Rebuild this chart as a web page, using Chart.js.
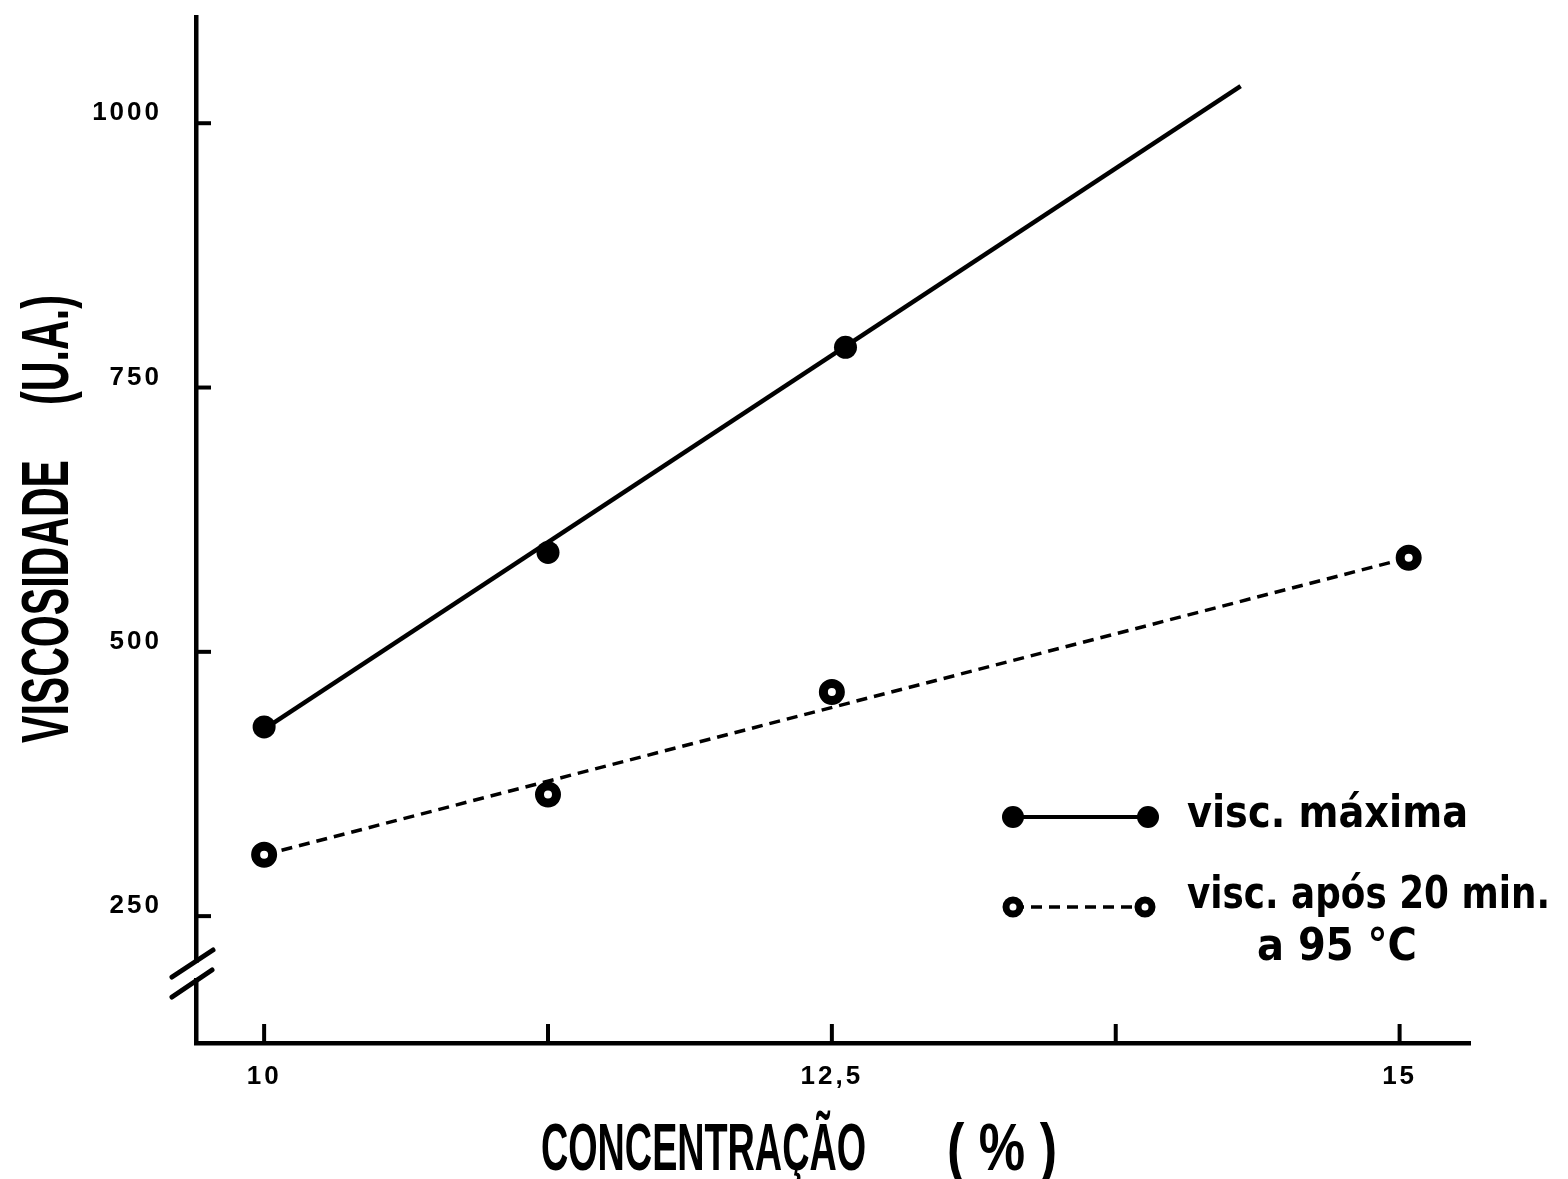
<!DOCTYPE html>
<html>
<head>
<meta charset="utf-8">
<script src="https://cdn.jsdelivr.net/npm/chart.js@4.4.1/dist/chart.umd.min.js"></script>
<style>
  html, body { margin: 0; padding: 0; background: #fff; overflow: hidden; }
  #wrap { position: relative; width: 1568px; height: 1179px; }
  canvas { display: block; }
</style>
</head>
<body>
<div id="wrap"><canvas id="c" width="1568" height="1179"></canvas></div>
<script>
// Measured points: concentration (%) vs viscosity (U.A.)
const concMax = [10, 11.25, 12.56];
const viscMax = [429, 594, 788];
const concAfter = [10, 11.25, 12.5, 15.04];
const viscAfter = [308, 365, 462, 589];

// Straight lines fitted through each series (end points)
const fitMaxConc = [10, 14.3];
const fitMaxVisc = [427, 1035];
const fitAfterConc = [10, 15.04];
const fitAfterVisc = [308, 589];

// Axis ticks and labels
const xTicks = [10, 11.25, 12.5, 13.75, 15];
const xTickLabels = ['10', '', '12,5', '', '15'];
const yTicks = [250, 500, 750, 1000];
const yTickLabels = ['250', '500', '750', '1000'];

// Texts
const legendLabels = ['visc. máxima', 'visc. após 20 min.', 'a 95 °C'];
const xTitleParts = ['CONCENTRAÇÃO', '( % )'];
const yTitleParts = ['VISCOSIDADE', '(U.A.)'];

const INK = '#000';
const toPoints = (xs, ys) => xs.map((x, i) => ({ x, y: ys[i] }));

// Draw a string squeezed/stretched to a given advance width
function fitText(ctx, text, x, y, width, font, rotated) {
  ctx.save();
  ctx.font = font;
  const w = ctx.measureText(text).width;
  ctx.translate(x, y);
  if (rotated) ctx.rotate(-Math.PI / 2);
  ctx.scale(width / w, 1);
  ctx.textAlign = 'left';
  ctx.textBaseline = 'alphabetic';
  ctx.fillStyle = INK;
  ctx.fillText(text, 0, 0);
  ctx.restore();
}

const spacingPlugin = {
  id: 'tickSpacing',
  beforeDraw(chart) { chart.ctx.letterSpacing = '3px'; },
  beforeDatasetsDraw(chart) { chart.ctx.letterSpacing = '0px'; }
};

const decorPlugin = {
  id: 'decor',
  afterDraw(chart) {
    const ctx = chart.ctx;
    const { left, bottom } = chart.chartArea;
    const xs = chart.scales.x, ys = chart.scales.y;
    ctx.save();
    ctx.strokeStyle = INK;
    ctx.fillStyle = INK;
    ctx.lineCap = 'butt';

    // inward tick marks
    ctx.lineWidth = 4;
    xTicks.forEach(v => {
      const px = xs.getPixelForValue(v);
      ctx.beginPath(); ctx.moveTo(px, bottom); ctx.lineTo(px, bottom - 19); ctx.stroke();
    });
    yTicks.forEach(v => {
      const py = ys.getPixelForValue(v);
      ctx.beginPath(); ctx.moveTo(left, py); ctx.lineTo(left + 15, py); ctx.stroke();
    });

    // axis break marks near the foot of the y axis
    ctx.fillStyle = '#fff';
    ctx.fillRect(left - 4, bottom - 80, 8, 15);
    ctx.strokeStyle = INK;
    ctx.lineWidth = 5;
    ctx.lineCap = 'round';
    ctx.beginPath();
    ctx.moveTo(left - 24, bottom - 66); ctx.lineTo(left + 17, bottom - 93);
    ctx.moveTo(left - 24, bottom - 46); ctx.lineTo(left + 16, bottom - 73);
    ctx.stroke();

    // legend
    ctx.lineCap = 'butt';
    ctx.lineWidth = 4;
    ctx.beginPath(); ctx.moveTo(1013, 817); ctx.lineTo(1148, 817); ctx.stroke();
    ctx.fillStyle = INK;
    [1013, 1148].forEach(cx => { ctx.beginPath(); ctx.arc(cx, 817, 11, 0, Math.PI * 2); ctx.fill(); });

    ctx.lineWidth = 3.5;
    ctx.setLineDash([11, 7]);
    ctx.beginPath(); ctx.moveTo(1013, 907); ctx.lineTo(1145, 907); ctx.stroke();
    ctx.setLineDash([]);
    ctx.lineWidth = 7;
    [1013, 1145].forEach(cx => {
      ctx.beginPath(); ctx.arc(cx, 907, 7, 0, Math.PI * 2);
      ctx.fillStyle = '#fff'; ctx.fill(); ctx.stroke();
    });

    const lf = 'bold 44px "DejaVu Sans", sans-serif';
    fitText(ctx, legendLabels[0], 1187, 827, 281, lf);
    fitText(ctx, legendLabels[1], 1187, 908, 363, lf);
    fitText(ctx, legendLabels[2], 1257, 960, 160, lf);

    // axis titles
    const tf = 'bold 66px "Liberation Sans Narrow", "Liberation Sans", sans-serif';
    fitText(ctx, xTitleParts[0], 541, 1170, 325, tf);
    fitText(ctx, xTitleParts[1], 947, 1170, 110, tf);
    fitText(ctx, yTitleParts[0], 68, 743, 283, tf, true);
    fitText(ctx, yTitleParts[1], 68, 405, 110, tf, true);

    ctx.restore();
  }
};

const tickFont = { family: '"Liberation Sans", Arial, sans-serif', size: 26, weight: 'bold' };

new Chart(document.getElementById('c'), {
  type: 'scatter',
  data: {
    datasets: [
      {
        label: 'visc. máxima (reta)',
        data: toPoints(fitMaxConc, fitMaxVisc),
        showLine: true,
        borderColor: INK,
        borderWidth: 4.5,
        pointRadius: 0,
        order: 3
      },
      {
        label: 'visc. após 20 min. (reta)',
        data: toPoints(fitAfterConc, fitAfterVisc),
        showLine: true,
        borderColor: INK,
        borderWidth: 3.5,
        borderDash: [11, 7],
        pointRadius: 0,
        order: 2
      },
      {
        label: legendLabels[0],
        data: toPoints(concMax, viscMax),
        showLine: false,
        pointRadius: 11.5,
        pointBorderWidth: 0,
        pointBackgroundColor: INK,
        order: 1
      },
      {
        label: legendLabels[1] + ' ' + legendLabels[2],
        data: toPoints(concAfter, viscAfter),
        showLine: false,
        pointRadius: 8.5,
        pointBorderWidth: 9,
        pointBorderColor: INK,
        pointBackgroundColor: '#fff',
        order: 0
      }
    ]
  },
  options: {
    responsive: false,
    animation: false,
    devicePixelRatio: 1,
    layout: { padding: { left: 0, top: 12, right: 98, bottom: 0 } },
    plugins: { legend: { display: false }, tooltip: { enabled: false } },
    scales: {
      x: {
        type: 'linear',
        min: 9.70,
        max: 15.31,
        afterBuildTicks: s => { s.ticks = xTicks.map(v => ({ value: v })); },
        afterFit: s => { s.height = 136; s.paddingLeft = 0; s.paddingRight = 0; },
        grid: { display: false, drawTicks: false },
        border: { display: true, color: INK, width: 4.5 },
        ticks: {
          autoSkip: false,
          maxRotation: 0,
          padding: 18,
          color: INK,
          font: tickFont,
          callback: v => xTickLabels[xTicks.indexOf(v)]
        }
      },
      y: {
        type: 'linear',
        min: 130,
        max: 1100,
        afterBuildTicks: s => { s.ticks = yTicks.map(v => ({ value: v })); },
        afterFit: s => { s.width = 196; s.paddingTop = 0; s.paddingBottom = 0; },
        grid: { display: false, drawTicks: false },
        border: { display: true, color: INK, width: 4.5 },
        ticks: {
          padding: 34,
          labelOffset: -10,
          color: INK,
          font: tickFont,
          callback: v => yTickLabels[yTicks.indexOf(v)]
        }
      }
    }
  },
  plugins: [spacingPlugin, decorPlugin]
});
</script>
</body>
</html>
